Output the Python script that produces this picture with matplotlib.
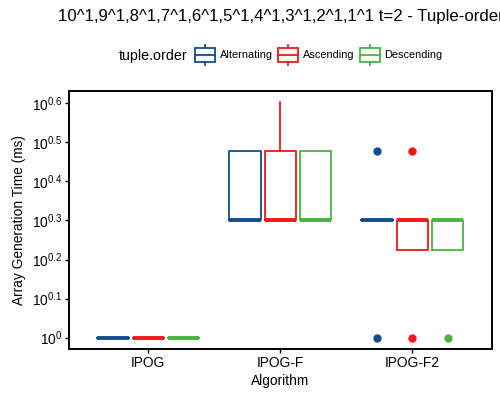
import matplotlib
matplotlib.use('Agg')
import matplotlib.pyplot as plt
import numpy as np
from matplotlib.legend_handler import HandlerBase
from matplotlib.patches import Rectangle
from matplotlib.lines import Line2D

plt.rcParams['font.family'] = ['Liberation Sans', 'DejaVu Sans']
plt.rcParams['mathtext.fontset'] = 'custom'
plt.rcParams['mathtext.rm'] = 'Liberation Sans'

# data (ms)
algorithms = ['IPOG', 'IPOG-F', 'IPOG-F2']
orders = ['Alternating', 'Ascending', 'Descending']
colors = ['#134C8E', '#F01818', '#48B443']

q1_alt = [1, 2, 2]
med_alt = [1, 2, 2]
q3_alt = [1, 3, 2]
hi_alt = [1, 3, 2]
out_alt = [[], [], [1, 3]]

q1_asc = [1, 2, 1.68]
med_asc = [1, 2, 2]
q3_asc = [1, 3, 2]
hi_asc = [1, 4, 2]
out_asc = [[], [], [1, 3]]

q1_desc = [1, 2, 1.68]
med_desc = [1, 2, 2]
q3_desc = [1, 3, 2]
hi_desc = [1, 3, 2]
out_desc = [[], [], [1]]

series = {
    'Alternating': (q1_alt, med_alt, q3_alt, hi_alt, out_alt),
    'Ascending': (q1_asc, med_asc, q3_asc, hi_asc, out_asc),
    'Descending': (q1_desc, med_desc, q3_desc, hi_desc, out_desc),
}

yticks = [0, 0.1, 0.2, 0.3, 0.4, 0.5, 0.6]


class BoxKey(HandlerBase):
    def create_artists(self, legend, orig_handle, xdescent, ydescent,
                       width, height, fontsize, trans):
        c = orig_handle.get_color()
        x0, y0 = -xdescent, -ydescent
        w, h = width, height
        rect = Rectangle((x0, y0 + 0.18 * h), w, 0.64 * h, fill=False,
                         edgecolor=c, lw=1.3, transform=trans)
        mid = Line2D([x0, x0 + w], [y0 + 0.5 * h] * 2, color=c, lw=1.3,
                     transform=trans)
        top = Line2D([x0 + 0.5 * w] * 2, [y0 + 0.82 * h, y0 + h], color=c,
                     lw=1.3, transform=trans)
        bot = Line2D([x0 + 0.5 * w] * 2, [y0, y0 + 0.18 * h], color=c,
                     lw=1.3, transform=trans)
        return [rect, mid, top, bot]


fig = plt.figure(figsize=(5, 4), dpi=100)
ax = fig.add_axes([0.138, 0.1275, 0.845, 0.645])

offsets = [-0.267, 0, 0.267]
pos = np.arange(1, len(algorithms) + 1)
for k, name in enumerate(orders):
    q1, med, q3, hi, out = series[name]
    c = colors[k]
    stats = []
    for i in range(len(algorithms)):
        stats.append(dict(q1=np.log10(q1[i]), med=np.log10(med[i]),
                          q3=np.log10(q3[i]), whislo=np.log10(q1[i]),
                          whishi=np.log10(hi[i]),
                          fliers=np.log10(np.array(out[i], dtype=float))))
    ax.bxp(stats, positions=pos + offsets[k], widths=0.237,
           showcaps=False, manage_ticks=False,
           boxprops=dict(color=c, lw=1.3),
           medianprops=dict(color=c, lw=2.8, solid_capstyle='butt'),
           whiskerprops=dict(color=c, lw=1.3),
           flierprops=dict(marker='o', markerfacecolor=c, markeredgecolor=c,
                           markersize=5, linestyle='none'))

ax.set_xlim(0.4, 3.6)
ax.set_ylim(-0.029, 0.6315)
ax.set_xticks(pos)
ax.set_xticklabels(algorithms)
ax.set_yticks(yticks)
ax.set_yticklabels([r'$\mathregular{10^{%g}}$' % t for t in yticks])
ax.tick_params(labelsize=9.9, length=3, width=1, colors='black', pad=2)
for s in ax.spines.values():
    s.set_linewidth(1.4)
ax.set_xlabel('Algorithm', fontsize=9.9, labelpad=3)
ax.set_ylabel('Array Generation Time (ms)', fontsize=9.9, labelpad=4)

fig.text(281 / 500, 1 - 16 / 400, '10^1,9^1,8^1,7^1,6^1,5^1,4^1,3^1,2^1,1^1 t=2 - Tuple-order',
         ha='center', va='center', fontsize=12.1)

fig.text(119 / 500, 1 - 56 / 400, 'tuple.order', ha='left', va='center', fontsize=10.3)
handles = [Line2D([], [], color=c) for c in colors]
fig.legend(handles, orders, handler_map={Line2D: BoxKey()},
           loc='center left', bbox_to_anchor=(195 / 500, 1 - 55 / 400),
           ncol=3, frameon=False, fontsize=7.9, borderpad=0,
           handlelength=1.8, handleheight=2.5, handletextpad=0.45,
           columnspacing=0.5, borderaxespad=0)

fig.savefig('out.png', dpi=100)
